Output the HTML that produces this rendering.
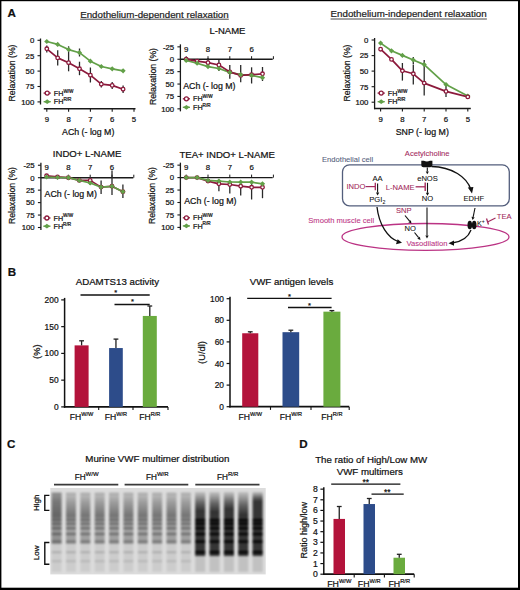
<!DOCTYPE html>
<html><head><meta charset="utf-8"><style>
html,body{margin:0;padding:0;background:#fff;}
#fig{position:absolute;left:0;top:0;width:520px;height:590px;overflow:hidden;}
svg text{font-family:"Liberation Sans", sans-serif;}
</style></head><body>
<div id="fig">
<svg width="520" height="590" viewBox="0 0 520 590" style="display:block">
<defs>
<linearGradient id="smWT" x1="0" y1="0" x2="0" y2="1"><stop offset="0" stop-color="#000" stop-opacity="0.12"/><stop offset="0.4" stop-color="#000" stop-opacity="0.30"/><stop offset="0.9" stop-color="#000" stop-opacity="0.48"/><stop offset="1" stop-color="#000" stop-opacity="0.36"/></linearGradient>
<linearGradient id="smWT1" x1="0" y1="0" x2="0" y2="1"><stop offset="0" stop-color="#000" stop-opacity="0.30"/><stop offset="0.3" stop-color="#000" stop-opacity="0.45"/><stop offset="0.9" stop-color="#000" stop-opacity="0.55"/><stop offset="1" stop-color="#000" stop-opacity="0.45"/></linearGradient>
<linearGradient id="smRR" x1="0" y1="0" x2="0" y2="1"><stop offset="0" stop-color="#000" stop-opacity="0.12"/><stop offset="0.55" stop-color="#000" stop-opacity="0.55"/><stop offset="1" stop-color="#000" stop-opacity="0.80"/></linearGradient>
<filter id="blur1" x="-5%" y="-5%" width="110%" height="110%"><feGaussianBlur stdDeviation="0.8"/></filter>
</defs>
<rect x="0" y="0" width="520" height="590" fill="#fff"/>
<text x="7.60" y="17.00" font-size="11.6" text-anchor="start" fill="#111" stroke="#111" stroke-width="0.22" font-weight="bold" >A</text>
<text x="80.20" y="17.60" font-size="9.75" text-anchor="start" fill="#222" stroke="#222" stroke-width="0.22" font-weight="normal" >Endothelium-dependent relaxation</text>
<line x1="80.20" y1="19.20" x2="228.80" y2="19.20" stroke="#333" stroke-width="0.9"/>
<text x="330.60" y="17.40" font-size="9.75" text-anchor="start" fill="#222" stroke="#222" stroke-width="0.22" font-weight="normal" >Endothelium-independent relaxation</text>
<line x1="330.60" y1="19.00" x2="486.90" y2="19.00" stroke="#333" stroke-width="0.9"/>
<line x1="40.50" y1="38.50" x2="40.50" y2="104.50" stroke="#1a1a1a" stroke-width="1.3"/>
<line x1="37.50" y1="40.30" x2="40.50" y2="40.30" stroke="#1a1a1a" stroke-width="1.1"/>
<text x="34.30" y="43.10" font-size="7.8" text-anchor="end" fill="#111" stroke="#111" stroke-width="0.22" font-weight="normal" >0</text>
<line x1="37.50" y1="55.70" x2="40.50" y2="55.70" stroke="#1a1a1a" stroke-width="1.1"/>
<text x="34.30" y="58.50" font-size="7.8" text-anchor="end" fill="#111" stroke="#111" stroke-width="0.22" font-weight="normal" >25</text>
<line x1="37.50" y1="71.10" x2="40.50" y2="71.10" stroke="#1a1a1a" stroke-width="1.1"/>
<text x="34.30" y="73.90" font-size="7.8" text-anchor="end" fill="#111" stroke="#111" stroke-width="0.22" font-weight="normal" >50</text>
<line x1="37.50" y1="86.50" x2="40.50" y2="86.50" stroke="#1a1a1a" stroke-width="1.1"/>
<text x="34.30" y="89.30" font-size="7.8" text-anchor="end" fill="#111" stroke="#111" stroke-width="0.22" font-weight="normal" >75</text>
<line x1="37.50" y1="101.90" x2="40.50" y2="101.90" stroke="#1a1a1a" stroke-width="1.1"/>
<text x="34.30" y="104.70" font-size="7.8" text-anchor="end" fill="#111" stroke="#111" stroke-width="0.22" font-weight="normal" >100</text>
<line x1="43.80" y1="108.70" x2="135.50" y2="108.70" stroke="#1a1a1a" stroke-width="1.6"/>
<line x1="46.80" y1="108.70" x2="46.80" y2="111.70" stroke="#1a1a1a" stroke-width="1.1"/>
<text x="46.80" y="122.30" font-size="7.8" text-anchor="middle" fill="#111" stroke="#111" stroke-width="0.22" font-weight="normal" >9</text>
<line x1="68.60" y1="108.70" x2="68.60" y2="111.70" stroke="#1a1a1a" stroke-width="1.1"/>
<text x="68.60" y="122.30" font-size="7.8" text-anchor="middle" fill="#111" stroke="#111" stroke-width="0.22" font-weight="normal" >8</text>
<line x1="90.40" y1="108.70" x2="90.40" y2="111.70" stroke="#1a1a1a" stroke-width="1.1"/>
<text x="90.40" y="122.30" font-size="7.8" text-anchor="middle" fill="#111" stroke="#111" stroke-width="0.22" font-weight="normal" >7</text>
<line x1="112.20" y1="108.70" x2="112.20" y2="111.70" stroke="#1a1a1a" stroke-width="1.1"/>
<text x="112.20" y="122.30" font-size="7.8" text-anchor="middle" fill="#111" stroke="#111" stroke-width="0.22" font-weight="normal" >6</text>
<line x1="134.00" y1="108.70" x2="134.00" y2="111.70" stroke="#1a1a1a" stroke-width="1.1"/>
<text x="134.00" y="122.30" font-size="7.8" text-anchor="middle" fill="#111" stroke="#111" stroke-width="0.22" font-weight="normal" >5</text>
<text x="88.20" y="135.20" font-size="8.8" text-anchor="middle" fill="#111" stroke="#111" stroke-width="0.22" font-weight="normal" >ACh (- log M)</text>
<text x="0" y="0" font-size="9.3" text-anchor="middle" fill="#111" stroke="#111" stroke-width="0.22" transform="translate(15.20 73.00) rotate(-90) scale(0.935 1)">Relaxation (%)</text>
<line x1="46.80" y1="45.50" x2="46.80" y2="52.50" stroke="#2a2a2a" stroke-width="1.3"/>
<line x1="57.70" y1="50.20" x2="57.70" y2="65.60" stroke="#2a2a2a" stroke-width="1.3"/>
<line x1="68.60" y1="54.00" x2="68.60" y2="71.30" stroke="#2a2a2a" stroke-width="1.3"/>
<line x1="79.50" y1="61.70" x2="79.50" y2="75.20" stroke="#2a2a2a" stroke-width="1.3"/>
<line x1="90.40" y1="67.50" x2="90.40" y2="82.50" stroke="#2a2a2a" stroke-width="1.3"/>
<line x1="101.30" y1="81.00" x2="101.30" y2="87.50" stroke="#2a2a2a" stroke-width="1.3"/>
<line x1="112.20" y1="82.00" x2="112.20" y2="89.00" stroke="#2a2a2a" stroke-width="1.3"/>
<line x1="123.10" y1="85.50" x2="123.10" y2="93.00" stroke="#2a2a2a" stroke-width="1.3"/>
<line x1="68.60" y1="46.30" x2="68.60" y2="54.00" stroke="#2a2a2a" stroke-width="1.3"/>
<line x1="79.50" y1="48.50" x2="79.50" y2="56.50" stroke="#2a2a2a" stroke-width="1.3"/>
<polyline points="46.80,41.50 57.70,44.40 68.60,49.60 79.50,52.70 90.40,61.20 101.30,66.50 112.20,68.80 123.10,70.80" fill="none" stroke="#62a048" stroke-width="1.7" stroke-linejoin="round"/>
<polyline points="46.80,48.80 57.70,57.90 68.60,62.70 79.50,68.80 90.40,75.20 101.30,84.20 112.20,85.40 123.10,89.20" fill="none" stroke="#8c1a3c" stroke-width="1.7" stroke-linejoin="round"/>
<path d="M44.20 41.50L46.80 38.90L49.40 41.50L46.80 44.10Z" fill="#62a048"/>
<path d="M55.10 44.40L57.70 41.80L60.30 44.40L57.70 47.00Z" fill="#62a048"/>
<path d="M66.00 49.60L68.60 47.00L71.20 49.60L68.60 52.20Z" fill="#62a048"/>
<path d="M76.90 52.70L79.50 50.10L82.10 52.70L79.50 55.30Z" fill="#62a048"/>
<path d="M87.80 61.20L90.40 58.60L93.00 61.20L90.40 63.80Z" fill="#62a048"/>
<path d="M98.70 66.50L101.30 63.90L103.90 66.50L101.30 69.10Z" fill="#62a048"/>
<path d="M109.60 68.80L112.20 66.20L114.80 68.80L112.20 71.40Z" fill="#62a048"/>
<path d="M120.50 70.80L123.10 68.20L125.70 70.80L123.10 73.40Z" fill="#62a048"/>
<circle cx="46.80" cy="48.80" r="1.8" fill="#fff" stroke="#8c1a3c" stroke-width="1.3"/>
<circle cx="57.70" cy="57.90" r="1.8" fill="#fff" stroke="#8c1a3c" stroke-width="1.3"/>
<circle cx="68.60" cy="62.70" r="1.8" fill="#fff" stroke="#8c1a3c" stroke-width="1.3"/>
<circle cx="79.50" cy="68.80" r="1.8" fill="#fff" stroke="#8c1a3c" stroke-width="1.3"/>
<circle cx="90.40" cy="75.20" r="1.8" fill="#fff" stroke="#8c1a3c" stroke-width="1.3"/>
<circle cx="101.30" cy="84.20" r="1.8" fill="#fff" stroke="#8c1a3c" stroke-width="1.3"/>
<circle cx="112.20" cy="85.40" r="1.8" fill="#fff" stroke="#8c1a3c" stroke-width="1.3"/>
<circle cx="123.10" cy="89.20" r="1.8" fill="#fff" stroke="#8c1a3c" stroke-width="1.3"/>
<line x1="43.60" y1="93.10" x2="50.80" y2="93.10" stroke="#8c1a3c" stroke-width="1.3"/>
<circle cx="47.20" cy="93.10" r="2.0" fill="#fff" stroke="#8c1a3c" stroke-width="1.3"/>
<line x1="43.60" y1="101.70" x2="50.80" y2="101.70" stroke="#62a048" stroke-width="1.3"/>
<path d="M44.00 101.70L47.20 99.30L50.40 101.70L47.20 104.10Z" fill="#62a048"/>
<text x="53.80" y="95.70" font-size="7.2" text-anchor="start" fill="#111" stroke="#111" stroke-width="0.22">FH<tspan font-size="4.68" dy="-3.17">W/W</tspan></text>
<text x="53.80" y="104.30" font-size="7.2" text-anchor="start" fill="#111" stroke="#111" stroke-width="0.22">FH<tspan font-size="4.68" dy="-3.17">R/R</tspan></text>
<text x="227.50" y="34.40" font-size="9.5" text-anchor="middle" fill="#111" stroke="#111" stroke-width="0.22" font-weight="normal" >L-NAME</text>
<line x1="180.40" y1="44.35" x2="180.40" y2="111.35" stroke="#1a1a1a" stroke-width="1.3"/>
<line x1="177.40" y1="46.85" x2="180.40" y2="46.85" stroke="#1a1a1a" stroke-width="1.1"/>
<text x="174.20" y="49.65" font-size="7.8" text-anchor="end" fill="#111" stroke="#111" stroke-width="0.22" font-weight="normal" >-25</text>
<line x1="177.40" y1="59.25" x2="180.40" y2="59.25" stroke="#1a1a1a" stroke-width="1.1"/>
<text x="174.20" y="62.05" font-size="7.8" text-anchor="end" fill="#111" stroke="#111" stroke-width="0.22" font-weight="normal" >0</text>
<line x1="177.40" y1="71.65" x2="180.40" y2="71.65" stroke="#1a1a1a" stroke-width="1.1"/>
<text x="174.20" y="74.45" font-size="7.8" text-anchor="end" fill="#111" stroke="#111" stroke-width="0.22" font-weight="normal" >25</text>
<line x1="177.40" y1="84.05" x2="180.40" y2="84.05" stroke="#1a1a1a" stroke-width="1.1"/>
<text x="174.20" y="86.85" font-size="7.8" text-anchor="end" fill="#111" stroke="#111" stroke-width="0.22" font-weight="normal" >50</text>
<line x1="177.40" y1="96.45" x2="180.40" y2="96.45" stroke="#1a1a1a" stroke-width="1.1"/>
<text x="174.20" y="99.25" font-size="7.8" text-anchor="end" fill="#111" stroke="#111" stroke-width="0.22" font-weight="normal" >75</text>
<line x1="177.40" y1="108.85" x2="180.40" y2="108.85" stroke="#1a1a1a" stroke-width="1.1"/>
<text x="174.20" y="111.65" font-size="7.8" text-anchor="end" fill="#111" stroke="#111" stroke-width="0.22" font-weight="normal" >100</text>
<line x1="180.40" y1="59.20" x2="272.70" y2="59.20" stroke="#1a1a1a" stroke-width="1.4"/>
<line x1="186.20" y1="56.20" x2="186.20" y2="59.20" stroke="#1a1a1a" stroke-width="1.0"/>
<text x="186.20" y="51.90" font-size="7.8" text-anchor="middle" fill="#111" stroke="#111" stroke-width="0.22" font-weight="normal" >9</text>
<line x1="208.00" y1="56.20" x2="208.00" y2="59.20" stroke="#1a1a1a" stroke-width="1.0"/>
<text x="208.00" y="51.90" font-size="7.8" text-anchor="middle" fill="#111" stroke="#111" stroke-width="0.22" font-weight="normal" >8</text>
<line x1="229.80" y1="56.20" x2="229.80" y2="59.20" stroke="#1a1a1a" stroke-width="1.0"/>
<text x="229.80" y="51.90" font-size="7.8" text-anchor="middle" fill="#111" stroke="#111" stroke-width="0.22" font-weight="normal" >7</text>
<line x1="251.60" y1="56.20" x2="251.60" y2="59.20" stroke="#1a1a1a" stroke-width="1.0"/>
<text x="251.60" y="51.90" font-size="7.8" text-anchor="middle" fill="#111" stroke="#111" stroke-width="0.22" font-weight="normal" >6</text>
<line x1="273.40" y1="56.20" x2="273.40" y2="59.20" stroke="#1a1a1a" stroke-width="1.0"/>
<text x="209.40" y="89.30" font-size="8.8" text-anchor="middle" fill="#111" stroke="#111" stroke-width="0.22" font-weight="normal" >ACh (- log M)</text>
<text x="0" y="0" font-size="9.3" text-anchor="middle" fill="#111" stroke="#111" stroke-width="0.22" transform="translate(155.50 76.50) rotate(-90) scale(0.935 1)">Relaxation (%)</text>
<line x1="182.80" y1="98.80" x2="190.00" y2="98.80" stroke="#8c1a3c" stroke-width="1.3"/>
<circle cx="186.40" cy="98.80" r="2.0" fill="#fff" stroke="#8c1a3c" stroke-width="1.3"/>
<line x1="182.80" y1="107.30" x2="190.00" y2="107.30" stroke="#62a048" stroke-width="1.3"/>
<path d="M183.20 107.30L186.40 104.90L189.60 107.30L186.40 109.70Z" fill="#62a048"/>
<text x="193.00" y="101.40" font-size="7.2" text-anchor="start" fill="#111" stroke="#111" stroke-width="0.22">FH<tspan font-size="4.68" dy="-3.17">W/W</tspan></text>
<text x="193.00" y="109.90" font-size="7.2" text-anchor="start" fill="#111" stroke="#111" stroke-width="0.22">FH<tspan font-size="4.68" dy="-3.17">R/R</tspan></text>
<line x1="208.00" y1="58.00" x2="208.00" y2="66.00" stroke="#2a2a2a" stroke-width="1.3"/>
<line x1="218.90" y1="60.00" x2="218.90" y2="71.00" stroke="#2a2a2a" stroke-width="1.3"/>
<line x1="229.80" y1="65.00" x2="229.80" y2="78.80" stroke="#2a2a2a" stroke-width="1.3"/>
<line x1="240.70" y1="65.00" x2="240.70" y2="82.30" stroke="#2a2a2a" stroke-width="1.3"/>
<line x1="251.60" y1="67.30" x2="251.60" y2="83.50" stroke="#2a2a2a" stroke-width="1.3"/>
<line x1="262.50" y1="67.00" x2="262.50" y2="81.00" stroke="#2a2a2a" stroke-width="1.3"/>
<polyline points="186.20,60.40 197.10,63.20 208.00,66.60 218.90,68.50 229.80,72.40 240.70,74.70 251.60,75.40 262.50,77.70" fill="none" stroke="#62a048" stroke-width="1.7" stroke-linejoin="round"/>
<polyline points="186.20,59.20 197.10,61.10 208.00,62.70 218.90,65.00 229.80,71.90 240.70,75.40 251.60,74.70 262.50,73.80" fill="none" stroke="#8c1a3c" stroke-width="1.7" stroke-linejoin="round"/>
<circle cx="186.20" cy="59.20" r="1.8" fill="#fff" stroke="#8c1a3c" stroke-width="1.3"/>
<circle cx="197.10" cy="61.10" r="1.8" fill="#fff" stroke="#8c1a3c" stroke-width="1.3"/>
<circle cx="208.00" cy="62.70" r="1.8" fill="#fff" stroke="#8c1a3c" stroke-width="1.3"/>
<circle cx="218.90" cy="65.00" r="1.8" fill="#fff" stroke="#8c1a3c" stroke-width="1.3"/>
<circle cx="229.80" cy="71.90" r="1.8" fill="#fff" stroke="#8c1a3c" stroke-width="1.3"/>
<circle cx="240.70" cy="75.40" r="1.8" fill="#fff" stroke="#8c1a3c" stroke-width="1.3"/>
<circle cx="251.60" cy="74.70" r="1.8" fill="#fff" stroke="#8c1a3c" stroke-width="1.3"/>
<circle cx="262.50" cy="73.80" r="1.8" fill="#fff" stroke="#8c1a3c" stroke-width="1.3"/>
<path d="M183.60 60.40L186.20 57.80L188.80 60.40L186.20 63.00Z" fill="#62a048"/>
<path d="M194.50 63.20L197.10 60.60L199.70 63.20L197.10 65.80Z" fill="#62a048"/>
<path d="M205.40 66.60L208.00 64.00L210.60 66.60L208.00 69.20Z" fill="#62a048"/>
<path d="M216.30 68.50L218.90 65.90L221.50 68.50L218.90 71.10Z" fill="#62a048"/>
<path d="M227.20 72.40L229.80 69.80L232.40 72.40L229.80 75.00Z" fill="#62a048"/>
<path d="M238.10 74.70L240.70 72.10L243.30 74.70L240.70 77.30Z" fill="#62a048"/>
<path d="M249.00 75.40L251.60 72.80L254.20 75.40L251.60 78.00Z" fill="#62a048"/>
<path d="M259.90 77.70L262.50 75.10L265.10 77.70L262.50 80.30Z" fill="#62a048"/>
<line x1="374.60" y1="38.00" x2="374.60" y2="109.20" stroke="#1a1a1a" stroke-width="1.3"/>
<line x1="371.60" y1="40.00" x2="374.60" y2="40.00" stroke="#1a1a1a" stroke-width="1.1"/>
<text x="368.40" y="42.80" font-size="7.8" text-anchor="end" fill="#111" stroke="#111" stroke-width="0.22" font-weight="normal" >0</text>
<line x1="371.60" y1="55.60" x2="374.60" y2="55.60" stroke="#1a1a1a" stroke-width="1.1"/>
<text x="368.40" y="58.40" font-size="7.8" text-anchor="end" fill="#111" stroke="#111" stroke-width="0.22" font-weight="normal" >25</text>
<line x1="371.60" y1="71.10" x2="374.60" y2="71.10" stroke="#1a1a1a" stroke-width="1.1"/>
<text x="368.40" y="73.90" font-size="7.8" text-anchor="end" fill="#111" stroke="#111" stroke-width="0.22" font-weight="normal" >50</text>
<line x1="371.60" y1="86.70" x2="374.60" y2="86.70" stroke="#1a1a1a" stroke-width="1.1"/>
<text x="368.40" y="89.50" font-size="7.8" text-anchor="end" fill="#111" stroke="#111" stroke-width="0.22" font-weight="normal" >75</text>
<line x1="371.60" y1="102.20" x2="374.60" y2="102.20" stroke="#1a1a1a" stroke-width="1.1"/>
<text x="368.40" y="105.00" font-size="7.8" text-anchor="end" fill="#111" stroke="#111" stroke-width="0.22" font-weight="normal" >100</text>
<line x1="374.00" y1="108.50" x2="470.80" y2="108.50" stroke="#1a1a1a" stroke-width="1.6"/>
<line x1="380.60" y1="108.50" x2="380.60" y2="111.50" stroke="#1a1a1a" stroke-width="1.1"/>
<text x="380.60" y="122.10" font-size="7.8" text-anchor="middle" fill="#111" stroke="#111" stroke-width="0.22" font-weight="normal" >9</text>
<line x1="402.40" y1="108.50" x2="402.40" y2="111.50" stroke="#1a1a1a" stroke-width="1.1"/>
<text x="402.40" y="122.10" font-size="7.8" text-anchor="middle" fill="#111" stroke="#111" stroke-width="0.22" font-weight="normal" >8</text>
<line x1="424.20" y1="108.50" x2="424.20" y2="111.50" stroke="#1a1a1a" stroke-width="1.1"/>
<text x="424.20" y="122.10" font-size="7.8" text-anchor="middle" fill="#111" stroke="#111" stroke-width="0.22" font-weight="normal" >7</text>
<line x1="446.00" y1="108.50" x2="446.00" y2="111.50" stroke="#1a1a1a" stroke-width="1.1"/>
<text x="446.00" y="122.10" font-size="7.8" text-anchor="middle" fill="#111" stroke="#111" stroke-width="0.22" font-weight="normal" >6</text>
<line x1="467.80" y1="108.50" x2="467.80" y2="111.50" stroke="#1a1a1a" stroke-width="1.1"/>
<text x="467.80" y="122.10" font-size="7.8" text-anchor="middle" fill="#111" stroke="#111" stroke-width="0.22" font-weight="normal" >5</text>
<text x="422.30" y="135.30" font-size="8.8" text-anchor="middle" fill="#111" stroke="#111" stroke-width="0.22" font-weight="normal" >SNP (- log M)</text>
<text x="0" y="0" font-size="9.3" text-anchor="middle" fill="#111" stroke="#111" stroke-width="0.22" transform="translate(349.60 73.00) rotate(-90) scale(0.935 1)">Relaxation (%)</text>
<line x1="402.40" y1="63.00" x2="402.40" y2="80.60" stroke="#2a2a2a" stroke-width="1.3"/>
<line x1="413.30" y1="64.60" x2="413.30" y2="84.60" stroke="#2a2a2a" stroke-width="1.3"/>
<line x1="424.20" y1="69.00" x2="424.20" y2="95.40" stroke="#2a2a2a" stroke-width="1.3"/>
<line x1="446.00" y1="86.00" x2="446.00" y2="97.00" stroke="#2a2a2a" stroke-width="1.3"/>
<line x1="413.30" y1="57.00" x2="413.30" y2="64.00" stroke="#2a2a2a" stroke-width="1.3"/>
<line x1="424.20" y1="60.00" x2="424.20" y2="69.00" stroke="#2a2a2a" stroke-width="1.3"/>
<polyline points="380.60,43.10 391.50,50.80 402.40,55.40 413.30,60.00 424.20,64.60 446.00,84.60 467.80,96.00" fill="none" stroke="#62a048" stroke-width="1.7" stroke-linejoin="round"/>
<polyline points="380.60,49.20 391.50,59.40 402.40,70.80 413.30,73.80 424.20,83.10 446.00,91.40 467.80,96.90" fill="none" stroke="#8c1a3c" stroke-width="1.7" stroke-linejoin="round"/>
<path d="M378.00 43.10L380.60 40.50L383.20 43.10L380.60 45.70Z" fill="#62a048"/>
<path d="M388.90 50.80L391.50 48.20L394.10 50.80L391.50 53.40Z" fill="#62a048"/>
<path d="M399.80 55.40L402.40 52.80L405.00 55.40L402.40 58.00Z" fill="#62a048"/>
<path d="M410.70 60.00L413.30 57.40L415.90 60.00L413.30 62.60Z" fill="#62a048"/>
<path d="M421.60 64.60L424.20 62.00L426.80 64.60L424.20 67.20Z" fill="#62a048"/>
<path d="M443.40 84.60L446.00 82.00L448.60 84.60L446.00 87.20Z" fill="#62a048"/>
<path d="M465.20 96.00L467.80 93.40L470.40 96.00L467.80 98.60Z" fill="#62a048"/>
<circle cx="380.60" cy="49.20" r="1.8" fill="#fff" stroke="#8c1a3c" stroke-width="1.3"/>
<circle cx="391.50" cy="59.40" r="1.8" fill="#fff" stroke="#8c1a3c" stroke-width="1.3"/>
<circle cx="402.40" cy="70.80" r="1.8" fill="#fff" stroke="#8c1a3c" stroke-width="1.3"/>
<circle cx="413.30" cy="73.80" r="1.8" fill="#fff" stroke="#8c1a3c" stroke-width="1.3"/>
<circle cx="424.20" cy="83.10" r="1.8" fill="#fff" stroke="#8c1a3c" stroke-width="1.3"/>
<circle cx="446.00" cy="91.40" r="1.8" fill="#fff" stroke="#8c1a3c" stroke-width="1.3"/>
<circle cx="467.80" cy="96.90" r="1.8" fill="#fff" stroke="#8c1a3c" stroke-width="1.3"/>
<line x1="377.60" y1="93.10" x2="384.80" y2="93.10" stroke="#8c1a3c" stroke-width="1.3"/>
<circle cx="381.20" cy="93.10" r="2.0" fill="#fff" stroke="#8c1a3c" stroke-width="1.3"/>
<line x1="377.60" y1="101.70" x2="384.80" y2="101.70" stroke="#62a048" stroke-width="1.3"/>
<path d="M378.00 101.70L381.20 99.30L384.40 101.70L381.20 104.10Z" fill="#62a048"/>
<text x="387.80" y="95.70" font-size="7.2" text-anchor="start" fill="#111" stroke="#111" stroke-width="0.22">FH<tspan font-size="4.68" dy="-3.17">W/W</tspan></text>
<text x="387.80" y="104.30" font-size="7.2" text-anchor="start" fill="#111" stroke="#111" stroke-width="0.22">FH<tspan font-size="4.68" dy="-3.17">R/R</tspan></text>
<text x="87.10" y="157.00" font-size="9.6" text-anchor="middle" fill="#111" stroke="#111" stroke-width="0.22" font-weight="normal" >INDO+ L-NAME</text>
<line x1="40.90" y1="162.75" x2="40.90" y2="230.00" stroke="#1a1a1a" stroke-width="1.3"/>
<line x1="37.90" y1="165.25" x2="40.90" y2="165.25" stroke="#1a1a1a" stroke-width="1.1"/>
<text x="34.70" y="168.05" font-size="7.8" text-anchor="end" fill="#111" stroke="#111" stroke-width="0.22" font-weight="normal" >-25</text>
<line x1="37.90" y1="177.70" x2="40.90" y2="177.70" stroke="#1a1a1a" stroke-width="1.1"/>
<text x="34.70" y="180.50" font-size="7.8" text-anchor="end" fill="#111" stroke="#111" stroke-width="0.22" font-weight="normal" >0</text>
<line x1="37.90" y1="190.15" x2="40.90" y2="190.15" stroke="#1a1a1a" stroke-width="1.1"/>
<text x="34.70" y="192.95" font-size="7.8" text-anchor="end" fill="#111" stroke="#111" stroke-width="0.22" font-weight="normal" >25</text>
<line x1="37.90" y1="202.60" x2="40.90" y2="202.60" stroke="#1a1a1a" stroke-width="1.1"/>
<text x="34.70" y="205.40" font-size="7.8" text-anchor="end" fill="#111" stroke="#111" stroke-width="0.22" font-weight="normal" >50</text>
<line x1="37.90" y1="215.05" x2="40.90" y2="215.05" stroke="#1a1a1a" stroke-width="1.1"/>
<text x="34.70" y="217.85" font-size="7.8" text-anchor="end" fill="#111" stroke="#111" stroke-width="0.22" font-weight="normal" >75</text>
<line x1="37.90" y1="227.50" x2="40.90" y2="227.50" stroke="#1a1a1a" stroke-width="1.1"/>
<text x="34.70" y="230.30" font-size="7.8" text-anchor="end" fill="#111" stroke="#111" stroke-width="0.22" font-weight="normal" >100</text>
<line x1="40.90" y1="177.70" x2="133.30" y2="177.70" stroke="#1a1a1a" stroke-width="1.4"/>
<line x1="46.60" y1="174.70" x2="46.60" y2="177.70" stroke="#1a1a1a" stroke-width="1.0"/>
<text x="46.60" y="170.40" font-size="7.8" text-anchor="middle" fill="#111" stroke="#111" stroke-width="0.22" font-weight="normal" >9</text>
<line x1="68.40" y1="174.70" x2="68.40" y2="177.70" stroke="#1a1a1a" stroke-width="1.0"/>
<text x="68.40" y="170.40" font-size="7.8" text-anchor="middle" fill="#111" stroke="#111" stroke-width="0.22" font-weight="normal" >8</text>
<line x1="90.20" y1="174.70" x2="90.20" y2="177.70" stroke="#1a1a1a" stroke-width="1.0"/>
<text x="90.20" y="170.40" font-size="7.8" text-anchor="middle" fill="#111" stroke="#111" stroke-width="0.22" font-weight="normal" >7</text>
<line x1="112.00" y1="174.70" x2="112.00" y2="177.70" stroke="#1a1a1a" stroke-width="1.0"/>
<text x="112.00" y="170.40" font-size="7.8" text-anchor="middle" fill="#111" stroke="#111" stroke-width="0.22" font-weight="normal" >6</text>
<line x1="133.80" y1="174.70" x2="133.80" y2="177.70" stroke="#1a1a1a" stroke-width="1.0"/>
<text x="70.70" y="196.80" font-size="8.8" text-anchor="middle" fill="#111" stroke="#111" stroke-width="0.22" font-weight="normal" >ACh (- log M)</text>
<text x="0" y="0" font-size="9.3" text-anchor="middle" fill="#111" stroke="#111" stroke-width="0.22" transform="translate(15.00 195.50) rotate(-90) scale(0.935 1)">Relaxation (%)</text>
<line x1="43.30" y1="218.00" x2="50.50" y2="218.00" stroke="#8c1a3c" stroke-width="1.3"/>
<circle cx="46.90" cy="218.00" r="2.0" fill="#fff" stroke="#8c1a3c" stroke-width="1.3"/>
<line x1="43.30" y1="226.20" x2="50.50" y2="226.20" stroke="#62a048" stroke-width="1.3"/>
<path d="M43.70 226.20L46.90 223.80L50.10 226.20L46.90 228.60Z" fill="#62a048"/>
<text x="53.50" y="220.60" font-size="7.2" text-anchor="start" fill="#111" stroke="#111" stroke-width="0.22">FH<tspan font-size="4.68" dy="-3.17">W/W</tspan></text>
<text x="53.50" y="228.80" font-size="7.2" text-anchor="start" fill="#111" stroke="#111" stroke-width="0.22">FH<tspan font-size="4.68" dy="-3.17">R/R</tspan></text>
<line x1="90.20" y1="177.00" x2="90.20" y2="185.00" stroke="#2a2a2a" stroke-width="1.3"/>
<line x1="101.10" y1="180.60" x2="101.10" y2="194.00" stroke="#2a2a2a" stroke-width="1.3"/>
<line x1="112.00" y1="170.50" x2="112.00" y2="195.00" stroke="#2a2a2a" stroke-width="1.3"/>
<line x1="122.90" y1="184.40" x2="122.90" y2="198.00" stroke="#2a2a2a" stroke-width="1.3"/>
<polyline points="46.60,175.80 57.50,176.90 68.40,177.70 79.30,180.40 90.20,180.40 101.10,187.10 112.00,186.30 122.90,191.70" fill="none" stroke="#8c1a3c" stroke-width="1.7" stroke-linejoin="round"/>
<polyline points="46.60,177.00 57.50,177.50 68.40,177.70 79.30,180.40 90.20,183.00 101.10,187.10 112.00,186.30 122.90,191.70" fill="none" stroke="#62a048" stroke-width="1.7" stroke-linejoin="round"/>
<circle cx="46.60" cy="175.80" r="1.8" fill="#fff" stroke="#8c1a3c" stroke-width="1.3"/>
<circle cx="57.50" cy="176.90" r="1.8" fill="#fff" stroke="#8c1a3c" stroke-width="1.3"/>
<circle cx="68.40" cy="177.70" r="1.8" fill="#fff" stroke="#8c1a3c" stroke-width="1.3"/>
<circle cx="79.30" cy="180.40" r="1.8" fill="#fff" stroke="#8c1a3c" stroke-width="1.3"/>
<circle cx="90.20" cy="180.40" r="1.8" fill="#fff" stroke="#8c1a3c" stroke-width="1.3"/>
<circle cx="101.10" cy="187.10" r="1.8" fill="#fff" stroke="#8c1a3c" stroke-width="1.3"/>
<circle cx="112.00" cy="186.30" r="1.8" fill="#fff" stroke="#8c1a3c" stroke-width="1.3"/>
<circle cx="122.90" cy="191.70" r="1.8" fill="#fff" stroke="#8c1a3c" stroke-width="1.3"/>
<path d="M44.00 177.00L46.60 174.40L49.20 177.00L46.60 179.60Z" fill="#62a048"/>
<path d="M54.90 177.50L57.50 174.90L60.10 177.50L57.50 180.10Z" fill="#62a048"/>
<path d="M65.80 177.70L68.40 175.10L71.00 177.70L68.40 180.30Z" fill="#62a048"/>
<path d="M76.70 180.40L79.30 177.80L81.90 180.40L79.30 183.00Z" fill="#62a048"/>
<path d="M87.60 183.00L90.20 180.40L92.80 183.00L90.20 185.60Z" fill="#62a048"/>
<path d="M98.50 187.10L101.10 184.50L103.70 187.10L101.10 189.70Z" fill="#62a048"/>
<path d="M109.40 186.30L112.00 183.70L114.60 186.30L112.00 188.90Z" fill="#62a048"/>
<path d="M120.30 191.70L122.90 189.10L125.50 191.70L122.90 194.30Z" fill="#62a048"/>
<text x="227.10" y="157.80" font-size="9.6" text-anchor="middle" fill="#111" stroke="#111" stroke-width="0.22" font-weight="normal" >TEA+ INDO+ L-NAME</text>
<line x1="180.40" y1="162.65" x2="180.40" y2="229.90" stroke="#1a1a1a" stroke-width="1.3"/>
<line x1="177.40" y1="165.15" x2="180.40" y2="165.15" stroke="#1a1a1a" stroke-width="1.1"/>
<text x="174.20" y="167.95" font-size="7.8" text-anchor="end" fill="#111" stroke="#111" stroke-width="0.22" font-weight="normal" >-25</text>
<line x1="177.40" y1="177.60" x2="180.40" y2="177.60" stroke="#1a1a1a" stroke-width="1.1"/>
<text x="174.20" y="180.40" font-size="7.8" text-anchor="end" fill="#111" stroke="#111" stroke-width="0.22" font-weight="normal" >0</text>
<line x1="177.40" y1="190.05" x2="180.40" y2="190.05" stroke="#1a1a1a" stroke-width="1.1"/>
<text x="174.20" y="192.85" font-size="7.8" text-anchor="end" fill="#111" stroke="#111" stroke-width="0.22" font-weight="normal" >25</text>
<line x1="177.40" y1="202.50" x2="180.40" y2="202.50" stroke="#1a1a1a" stroke-width="1.1"/>
<text x="174.20" y="205.30" font-size="7.8" text-anchor="end" fill="#111" stroke="#111" stroke-width="0.22" font-weight="normal" >50</text>
<line x1="177.40" y1="214.95" x2="180.40" y2="214.95" stroke="#1a1a1a" stroke-width="1.1"/>
<text x="174.20" y="217.75" font-size="7.8" text-anchor="end" fill="#111" stroke="#111" stroke-width="0.22" font-weight="normal" >75</text>
<line x1="177.40" y1="227.40" x2="180.40" y2="227.40" stroke="#1a1a1a" stroke-width="1.1"/>
<text x="174.20" y="230.20" font-size="7.8" text-anchor="end" fill="#111" stroke="#111" stroke-width="0.22" font-weight="normal" >100</text>
<line x1="180.40" y1="177.60" x2="272.70" y2="177.60" stroke="#1a1a1a" stroke-width="1.4"/>
<line x1="186.20" y1="174.60" x2="186.20" y2="177.60" stroke="#1a1a1a" stroke-width="1.0"/>
<text x="186.20" y="170.30" font-size="7.8" text-anchor="middle" fill="#111" stroke="#111" stroke-width="0.22" font-weight="normal" >9</text>
<line x1="208.00" y1="174.60" x2="208.00" y2="177.60" stroke="#1a1a1a" stroke-width="1.0"/>
<text x="208.00" y="170.30" font-size="7.8" text-anchor="middle" fill="#111" stroke="#111" stroke-width="0.22" font-weight="normal" >8</text>
<line x1="229.80" y1="174.60" x2="229.80" y2="177.60" stroke="#1a1a1a" stroke-width="1.0"/>
<text x="229.80" y="170.30" font-size="7.8" text-anchor="middle" fill="#111" stroke="#111" stroke-width="0.22" font-weight="normal" >7</text>
<line x1="251.60" y1="174.60" x2="251.60" y2="177.60" stroke="#1a1a1a" stroke-width="1.0"/>
<text x="251.60" y="170.30" font-size="7.8" text-anchor="middle" fill="#111" stroke="#111" stroke-width="0.22" font-weight="normal" >6</text>
<line x1="273.40" y1="174.60" x2="273.40" y2="177.60" stroke="#1a1a1a" stroke-width="1.0"/>
<text x="210.40" y="203.50" font-size="8.8" text-anchor="middle" fill="#111" stroke="#111" stroke-width="0.22" font-weight="normal" >ACh (- log M)</text>
<text x="0" y="0" font-size="9.3" text-anchor="middle" fill="#111" stroke="#111" stroke-width="0.22" transform="translate(155.00 195.50) rotate(-90) scale(0.935 1)">Relaxation (%)</text>
<line x1="182.80" y1="217.80" x2="190.00" y2="217.80" stroke="#8c1a3c" stroke-width="1.3"/>
<circle cx="186.40" cy="217.80" r="2.0" fill="#fff" stroke="#8c1a3c" stroke-width="1.3"/>
<line x1="182.80" y1="225.90" x2="190.00" y2="225.90" stroke="#62a048" stroke-width="1.3"/>
<path d="M183.20 225.90L186.40 223.50L189.60 225.90L186.40 228.30Z" fill="#62a048"/>
<text x="193.00" y="220.40" font-size="7.2" text-anchor="start" fill="#111" stroke="#111" stroke-width="0.22">FH<tspan font-size="4.68" dy="-3.17">W/W</tspan></text>
<text x="193.00" y="228.50" font-size="7.2" text-anchor="start" fill="#111" stroke="#111" stroke-width="0.22">FH<tspan font-size="4.68" dy="-3.17">R/R</tspan></text>
<line x1="218.90" y1="181.50" x2="218.90" y2="191.20" stroke="#2a2a2a" stroke-width="1.3"/>
<line x1="229.80" y1="182.70" x2="229.80" y2="193.50" stroke="#2a2a2a" stroke-width="1.3"/>
<line x1="240.70" y1="182.70" x2="240.70" y2="195.40" stroke="#2a2a2a" stroke-width="1.3"/>
<line x1="251.60" y1="182.70" x2="251.60" y2="199.50" stroke="#2a2a2a" stroke-width="1.3"/>
<line x1="262.50" y1="182.70" x2="262.50" y2="198.20" stroke="#2a2a2a" stroke-width="1.3"/>
<polyline points="186.20,177.60 197.10,177.60 208.00,181.10 218.90,183.80 229.80,184.50 240.70,186.20 251.60,187.30 262.50,187.30" fill="none" stroke="#8c1a3c" stroke-width="1.7" stroke-linejoin="round"/>
<polyline points="186.20,177.60 197.10,177.60 208.00,180.40 218.90,181.10 229.80,182.00 240.70,182.20 251.60,182.20 262.50,183.80" fill="none" stroke="#62a048" stroke-width="1.7" stroke-linejoin="round"/>
<circle cx="186.20" cy="177.60" r="1.8" fill="#fff" stroke="#8c1a3c" stroke-width="1.3"/>
<circle cx="197.10" cy="177.60" r="1.8" fill="#fff" stroke="#8c1a3c" stroke-width="1.3"/>
<circle cx="208.00" cy="181.10" r="1.8" fill="#fff" stroke="#8c1a3c" stroke-width="1.3"/>
<circle cx="218.90" cy="183.80" r="1.8" fill="#fff" stroke="#8c1a3c" stroke-width="1.3"/>
<circle cx="229.80" cy="184.50" r="1.8" fill="#fff" stroke="#8c1a3c" stroke-width="1.3"/>
<circle cx="240.70" cy="186.20" r="1.8" fill="#fff" stroke="#8c1a3c" stroke-width="1.3"/>
<circle cx="251.60" cy="187.30" r="1.8" fill="#fff" stroke="#8c1a3c" stroke-width="1.3"/>
<circle cx="262.50" cy="187.30" r="1.8" fill="#fff" stroke="#8c1a3c" stroke-width="1.3"/>
<path d="M183.60 177.60L186.20 175.00L188.80 177.60L186.20 180.20Z" fill="#62a048"/>
<path d="M194.50 177.60L197.10 175.00L199.70 177.60L197.10 180.20Z" fill="#62a048"/>
<path d="M205.40 180.40L208.00 177.80L210.60 180.40L208.00 183.00Z" fill="#62a048"/>
<path d="M216.30 181.10L218.90 178.50L221.50 181.10L218.90 183.70Z" fill="#62a048"/>
<path d="M227.20 182.00L229.80 179.40L232.40 182.00L229.80 184.60Z" fill="#62a048"/>
<path d="M238.10 182.20L240.70 179.60L243.30 182.20L240.70 184.80Z" fill="#62a048"/>
<path d="M249.00 182.20L251.60 179.60L254.20 182.20L251.60 184.80Z" fill="#62a048"/>
<path d="M259.90 183.80L262.50 181.20L265.10 183.80L262.50 186.40Z" fill="#62a048"/>
<text x="347.60" y="162.30" font-size="7.6" text-anchor="middle" fill="#535e7c" stroke="#535e7c" stroke-width="0.08" font-weight="normal" >Endothelial cell</text>
<rect x="342.5" y="164.8" width="166.8" height="41" rx="7" ry="7" fill="none" stroke="#535e7c" stroke-width="1.3"/>
<text x="427.20" y="155.60" font-size="7.6" text-anchor="middle" fill="#a32a5c" stroke="#a32a5c" stroke-width="0.08" font-weight="normal" >Acetylcholine</text>
<path d="M421.3 160.8 L423.8 160.8 Q426.9 162.3 430 160.8 L432.4 160.8 L432.4 165.2 Q432.2 167.2 430.2 167.2 L423.5 167.2 Q421.3 167.2 421.3 165.2 Z" fill="#111"/>
<text x="377.60" y="181.40" font-size="7.6" text-anchor="middle" fill="#111" stroke="#111" stroke-width="0.08" font-weight="normal" >AA</text>
<text x="427.50" y="181.20" font-size="7.6" text-anchor="middle" fill="#111" stroke="#111" stroke-width="0.08" font-weight="normal" >eNOS</text>
<text x="356.00" y="189.30" font-size="7.6" text-anchor="middle" fill="#a32a5c" stroke="#a32a5c" stroke-width="0.08" font-weight="normal" >INDO</text>
<text x="400.20" y="189.80" font-size="7.6" text-anchor="middle" fill="#a32a5c" stroke="#a32a5c" stroke-width="0.08" font-weight="normal" >L-NAME</text>
<line x1="365.50" y1="186.60" x2="375.00" y2="186.60" stroke="#a32a5c" stroke-width="1.2"/>
<line x1="375.30" y1="182.80" x2="375.30" y2="190.30" stroke="#a32a5c" stroke-width="1.3"/>
<line x1="415.60" y1="186.80" x2="425.00" y2="186.80" stroke="#a32a5c" stroke-width="1.3"/>
<line x1="425.20" y1="182.60" x2="425.20" y2="191.00" stroke="#a32a5c" stroke-width="1.4"/>
<line x1="377.60" y1="183.50" x2="377.60" y2="192.50" stroke="#111" stroke-width="1.1"/>
<path d="M377.60 195.50L375.95 192.50L379.25 192.50Z" fill="#111"/>
<line x1="427.30" y1="167.50" x2="427.30" y2="171.50" stroke="#111" stroke-width="1.1"/>
<path d="M427.30 174.30L425.76 171.50L428.84 171.50Z" fill="#111"/>
<line x1="427.50" y1="182.80" x2="427.50" y2="192.80" stroke="#111" stroke-width="1.1"/>
<path d="M427.50 195.80L425.85 192.80L429.15 192.80Z" fill="#111"/>
<text x="377.30" y="202.20" font-size="7.6" text-anchor="middle" fill="#111" stroke="#111" stroke-width="0.08" font-weight="normal" >PGI<tspan font-size="5.2" dy="2.2">2</tspan></text>
<text x="427.50" y="201.40" font-size="7.6" text-anchor="middle" fill="#111" stroke="#111" stroke-width="0.08" font-weight="normal" >NO</text>
<text x="473.80" y="201.40" font-size="7.6" text-anchor="middle" fill="#111" stroke="#111" stroke-width="0.08" font-weight="normal" >EDHF</text>
<path d="M431.5 166.5 C452 167 467 177 470.8 189.5" fill="none" stroke="#111" stroke-width="1.4"/>
<path d="M472 193.5 L467.8 187.6 L473.4 186.9 Z" fill="#111"/>
<text x="341.20" y="222.60" font-size="7.6" text-anchor="middle" fill="#bb3384" stroke="#bb3384" stroke-width="0.08" font-weight="normal" >Smooth muscle cell</text>
<text x="403.80" y="213.40" font-size="7.6" text-anchor="middle" fill="#a32a5c" stroke="#a32a5c" stroke-width="0.08" font-weight="normal" >SNP</text>
<text x="410.30" y="230.60" font-size="7.6" text-anchor="middle" fill="#111" stroke="#111" stroke-width="0.08" font-weight="normal" >NO</text>
<ellipse cx="425.5" cy="236.9" rx="83.5" ry="13.4" fill="none" stroke="#bb3384" stroke-width="1.3"/>
<text x="427.00" y="246.20" font-size="7.6" text-anchor="middle" fill="#bb3384" stroke="#bb3384" stroke-width="0.08" font-weight="normal" >Vasodilation</text>
<line x1="405.00" y1="215.50" x2="409.61" y2="221.17" stroke="#111" stroke-width="1.1"/>
<path d="M411.50 223.50L408.33 222.21L410.89 220.13Z" fill="#111"/>
<line x1="414.50" y1="232.50" x2="418.63" y2="237.66" stroke="#111" stroke-width="1.1"/>
<path d="M420.50 240.00L417.34 238.69L419.91 236.63Z" fill="#111"/>
<line x1="427.00" y1="207.50" x2="427.00" y2="235.50" stroke="#111" stroke-width="1.1"/>
<path d="M427.00 238.50L425.35 235.50L428.65 235.50Z" fill="#111"/>
<path d="M377 207 C379 225 388 238 398 241.5" fill="none" stroke="#111" stroke-width="1.3"/>
<path d="M402 242.8 L396 244.2 L397.6 239.2 Z" fill="#111"/>
<line x1="475.00" y1="208.00" x2="473.11" y2="217.06" stroke="#111" stroke-width="1.1"/>
<path d="M472.50 220.00L471.50 216.73L474.73 217.40Z" fill="#111"/>
<ellipse cx="469.8" cy="225" rx="2.3" ry="4.3" fill="#111"/><ellipse cx="474.2" cy="225" rx="2.3" ry="4.3" fill="#111"/>
<text x="477.00" y="225.60" font-size="7.199999999999999" text-anchor="start" fill="#111" stroke="#111" stroke-width="0.08" font-weight="normal" >K<tspan font-size="5" dy="-2.6">+</tspan></text>
<line x1="487.50" y1="222.00" x2="495.50" y2="218.00" stroke="#a32a5c" stroke-width="1.2"/>
<line x1="486.50" y1="218.50" x2="488.50" y2="224.50" stroke="#a32a5c" stroke-width="1.3"/>
<text x="504.20" y="219.40" font-size="7.6" text-anchor="middle" fill="#a32a5c" stroke="#a32a5c" stroke-width="0.08" font-weight="normal" >TEA</text>
<path d="M471 230 C468 238 460 242 452 243" fill="none" stroke="#111" stroke-width="1.3"/>
<path d="M448.5 243.3 L454 240.6 L454 245.8 Z" fill="#111"/>
<text x="7.80" y="276.40" font-size="11.6" text-anchor="start" fill="#111" stroke="#111" stroke-width="0.22" font-weight="bold" >B</text>
<text x="117.40" y="285.00" font-size="9.7" text-anchor="middle" fill="#111" stroke="#111" stroke-width="0.22" font-weight="normal" >ADAMTS13 activity</text>
<line x1="64.60" y1="297.90" x2="64.60" y2="407.70" stroke="#111" stroke-width="1.5"/>
<line x1="61.20" y1="406.90" x2="64.60" y2="406.90" stroke="#111" stroke-width="1.2"/>
<text x="58.60" y="409.90" font-size="8.4" text-anchor="end" fill="#111" stroke="#111" stroke-width="0.22" font-weight="normal" >0</text>
<line x1="61.20" y1="380.15" x2="64.60" y2="380.15" stroke="#111" stroke-width="1.2"/>
<text x="58.60" y="383.15" font-size="8.4" text-anchor="end" fill="#111" stroke="#111" stroke-width="0.22" font-weight="normal" >50</text>
<line x1="61.20" y1="353.40" x2="64.60" y2="353.40" stroke="#111" stroke-width="1.2"/>
<text x="58.60" y="356.40" font-size="8.4" text-anchor="end" fill="#111" stroke="#111" stroke-width="0.22" font-weight="normal" >100</text>
<line x1="61.20" y1="326.65" x2="64.60" y2="326.65" stroke="#111" stroke-width="1.2"/>
<text x="58.60" y="329.65" font-size="8.4" text-anchor="end" fill="#111" stroke="#111" stroke-width="0.22" font-weight="normal" >150</text>
<line x1="61.20" y1="299.90" x2="64.60" y2="299.90" stroke="#111" stroke-width="1.2"/>
<text x="58.60" y="302.90" font-size="8.4" text-anchor="end" fill="#111" stroke="#111" stroke-width="0.22" font-weight="normal" >200</text>
<line x1="63.90" y1="406.90" x2="168.00" y2="406.90" stroke="#111" stroke-width="1.8"/>
<line x1="98.70" y1="406.90" x2="98.70" y2="410.10" stroke="#111" stroke-width="1.1"/>
<line x1="133.00" y1="406.90" x2="133.00" y2="410.10" stroke="#111" stroke-width="1.1"/>
<line x1="168.00" y1="406.90" x2="168.00" y2="410.10" stroke="#111" stroke-width="1.1"/>
<rect x="74.60" y="345.38" width="14.00" height="61.52" fill="#b3133b"/>
<line x1="81.60" y1="345.38" x2="81.60" y2="340.80" stroke="#222" stroke-width="1.3"/>
<line x1="79.20" y1="340.80" x2="84.00" y2="340.80" stroke="#222" stroke-width="1.3"/>
<rect x="109.10" y="348.05" width="13.70" height="58.85" fill="#2d4c8a"/>
<line x1="115.95" y1="348.05" x2="115.95" y2="339.10" stroke="#222" stroke-width="1.3"/>
<line x1="113.55" y1="339.10" x2="118.35" y2="339.10" stroke="#222" stroke-width="1.3"/>
<rect x="142.80" y="315.95" width="14.00" height="90.95" fill="#6aab3e"/>
<line x1="149.80" y1="315.95" x2="149.80" y2="306.00" stroke="#222" stroke-width="1.3"/>
<line x1="147.40" y1="306.00" x2="152.20" y2="306.00" stroke="#222" stroke-width="1.3"/>
<text x="40.00" y="351.70" font-size="9.3" text-anchor="middle" fill="#111" stroke="#111" stroke-width="0.22" transform="rotate(-90 40.00 351.70)">(%)</text>
<line x1="80.50" y1="295.00" x2="149.70" y2="295.00" stroke="#111" stroke-width="1.3"/>
<text x="115.70" y="294.90" font-size="7.6" text-anchor="middle" fill="#111" stroke="#111" stroke-width="0.22" font-weight="normal" >*</text>
<line x1="114.50" y1="304.50" x2="149.70" y2="304.50" stroke="#111" stroke-width="1.3"/>
<text x="132.40" y="304.40" font-size="7.6" text-anchor="middle" fill="#111" stroke="#111" stroke-width="0.22" font-weight="normal" >*</text>
<text x="81.60" y="420.20" font-size="8.6" text-anchor="middle" fill="#111" stroke="#111" stroke-width="0.22">FH<tspan font-size="5.59" dy="-3.78">W/W</tspan></text>
<text x="115.95" y="420.20" font-size="8.6" text-anchor="middle" fill="#111" stroke="#111" stroke-width="0.22">FH<tspan font-size="5.59" dy="-3.78">W/R</tspan></text>
<text x="149.80" y="420.20" font-size="8.6" text-anchor="middle" fill="#111" stroke="#111" stroke-width="0.22">FH<tspan font-size="5.59" dy="-3.78">R/R</tspan></text>
<text x="291.50" y="285.20" font-size="9.7" text-anchor="middle" fill="#111" stroke="#111" stroke-width="0.22" font-weight="normal" >VWF antigen levels</text>
<line x1="230.00" y1="296.70" x2="230.00" y2="407.50" stroke="#111" stroke-width="1.5"/>
<line x1="226.60" y1="406.70" x2="230.00" y2="406.70" stroke="#111" stroke-width="1.2"/>
<text x="224.00" y="409.70" font-size="8.4" text-anchor="end" fill="#111" stroke="#111" stroke-width="0.22" font-weight="normal" >0</text>
<line x1="226.60" y1="385.10" x2="230.00" y2="385.10" stroke="#111" stroke-width="1.2"/>
<text x="224.00" y="388.10" font-size="8.4" text-anchor="end" fill="#111" stroke="#111" stroke-width="0.22" font-weight="normal" >20</text>
<line x1="226.60" y1="363.50" x2="230.00" y2="363.50" stroke="#111" stroke-width="1.2"/>
<text x="224.00" y="366.50" font-size="8.4" text-anchor="end" fill="#111" stroke="#111" stroke-width="0.22" font-weight="normal" >40</text>
<line x1="226.60" y1="341.90" x2="230.00" y2="341.90" stroke="#111" stroke-width="1.2"/>
<text x="224.00" y="344.90" font-size="8.4" text-anchor="end" fill="#111" stroke="#111" stroke-width="0.22" font-weight="normal" >60</text>
<line x1="226.60" y1="320.30" x2="230.00" y2="320.30" stroke="#111" stroke-width="1.2"/>
<text x="224.00" y="323.30" font-size="8.4" text-anchor="end" fill="#111" stroke="#111" stroke-width="0.22" font-weight="normal" >80</text>
<line x1="226.60" y1="298.70" x2="230.00" y2="298.70" stroke="#111" stroke-width="1.2"/>
<text x="224.00" y="301.70" font-size="8.4" text-anchor="end" fill="#111" stroke="#111" stroke-width="0.22" font-weight="normal" >100</text>
<line x1="229.30" y1="406.70" x2="349.20" y2="406.70" stroke="#111" stroke-width="1.8"/>
<line x1="270.50" y1="406.70" x2="270.50" y2="409.90" stroke="#111" stroke-width="1.1"/>
<line x1="311.00" y1="406.70" x2="311.00" y2="409.90" stroke="#111" stroke-width="1.1"/>
<line x1="349.20" y1="406.70" x2="349.20" y2="409.90" stroke="#111" stroke-width="1.1"/>
<rect x="242.20" y="333.26" width="16.10" height="73.44" fill="#b3133b"/>
<line x1="250.25" y1="333.26" x2="250.25" y2="331.80" stroke="#222" stroke-width="1.3"/>
<line x1="247.85" y1="331.80" x2="252.65" y2="331.80" stroke="#222" stroke-width="1.3"/>
<rect x="282.50" y="332.18" width="16.70" height="74.52" fill="#2d4c8a"/>
<line x1="290.85" y1="332.18" x2="290.85" y2="330.20" stroke="#222" stroke-width="1.3"/>
<line x1="288.45" y1="330.20" x2="293.25" y2="330.20" stroke="#222" stroke-width="1.3"/>
<rect x="323.40" y="311.66" width="17.00" height="95.04" fill="#6aab3e"/>
<line x1="331.90" y1="311.66" x2="331.90" y2="310.60" stroke="#222" stroke-width="1.3"/>
<line x1="329.50" y1="310.60" x2="334.30" y2="310.60" stroke="#222" stroke-width="1.3"/>
<text x="204.60" y="352.50" font-size="9.3" text-anchor="middle" fill="#111" stroke="#111" stroke-width="0.22" transform="rotate(-90 204.60 352.50)">(U/dl)</text>
<line x1="247.20" y1="298.30" x2="331.60" y2="298.30" stroke="#111" stroke-width="1.3"/>
<text x="289.60" y="298.80" font-size="7.6" text-anchor="middle" fill="#111" stroke="#111" stroke-width="0.22" font-weight="normal" >*</text>
<line x1="288.00" y1="307.50" x2="331.60" y2="307.50" stroke="#111" stroke-width="1.3"/>
<text x="309.50" y="308.00" font-size="7.6" text-anchor="middle" fill="#111" stroke="#111" stroke-width="0.22" font-weight="normal" >*</text>
<text x="250.25" y="420.20" font-size="8.6" text-anchor="middle" fill="#111" stroke="#111" stroke-width="0.22">FH<tspan font-size="5.59" dy="-3.78">W/W</tspan></text>
<text x="290.85" y="420.20" font-size="8.6" text-anchor="middle" fill="#111" stroke="#111" stroke-width="0.22">FH<tspan font-size="5.59" dy="-3.78">W/R</tspan></text>
<text x="331.90" y="420.20" font-size="8.6" text-anchor="middle" fill="#111" stroke="#111" stroke-width="0.22">FH<tspan font-size="5.59" dy="-3.78">R/R</tspan></text>
<text x="7.00" y="448.20" font-size="11.6" text-anchor="start" fill="#111" stroke="#111" stroke-width="0.22" font-weight="bold" >C</text>
<text x="157.40" y="461.60" font-size="9.75" text-anchor="middle" fill="#111" stroke="#111" stroke-width="0.22" font-weight="normal" >Murine VWF multimer distribution</text>
<text x="86.60" y="480.00" font-size="8.2" text-anchor="middle" fill="#111" stroke="#111" stroke-width="0.22">FH<tspan font-size="6.00" dy="-3.61">W/W</tspan></text>
<text x="157.30" y="480.00" font-size="8.2" text-anchor="middle" fill="#111" stroke="#111" stroke-width="0.22">FH<tspan font-size="6.00" dy="-3.61">W/R</tspan></text>
<text x="227.70" y="480.00" font-size="8.2" text-anchor="middle" fill="#111" stroke="#111" stroke-width="0.22">FH<tspan font-size="6.00" dy="-3.61">R/R</tspan></text>
<line x1="54.00" y1="484.70" x2="118.30" y2="484.70" stroke="#3a3a3a" stroke-width="1.8"/>
<line x1="124.60" y1="484.70" x2="188.30" y2="484.70" stroke="#3a3a3a" stroke-width="1.8"/>
<line x1="195.30" y1="484.70" x2="259.50" y2="484.70" stroke="#3a3a3a" stroke-width="1.8"/>
<path d="M49.4 495.4 L44.8 495.4 L44.8 510.4 L49.4 510.4" fill="none" stroke="#111" stroke-width="1.4"/>
<path d="M49.4 542.5 L44.8 542.5 L44.8 564.2 L49.4 564.2" fill="none" stroke="#111" stroke-width="1.4"/>
<text x="39.4" y="502.8" font-size="8.0" text-anchor="middle" fill="#111" stroke="#111" stroke-width="0.25" transform="rotate(-90 39.4 502.8)">High</text>
<text x="39.2" y="552.9" font-size="8.0" text-anchor="middle" fill="#111" stroke="#111" stroke-width="0.25" transform="rotate(-90 39.2 552.9)">Low</text>
<rect x="50.3" y="488.0" width="215.4" height="86.4" fill="#dcdcdc"/>
<clipPath id="gelclip"><rect x="50.3" y="488.0" width="215.4" height="86.4"/></clipPath>
<g clip-path="url(#gelclip)"><g filter="url(#blur1)">
<rect x="51.60" y="492.5" width="10.0" height="26.5" fill="url(#smWT1)"/>
<rect x="51.60" y="493" width="10.0" height="1.6" fill="#000" fill-opacity="0.12"/>
<rect x="51.60" y="519" width="10.0" height="25" fill="#000" fill-opacity="0.34"/>
<rect x="51.60" y="544" width="10.0" height="28" fill="#000" fill-opacity="0.07"/>
<rect x="51.60" y="519.20" width="10.0" height="2.0" fill="#000" fill-opacity="0.38"/>
<rect x="51.60" y="522.80" width="10.0" height="2.0" fill="#000" fill-opacity="0.38"/>
<rect x="51.60" y="527.20" width="10.0" height="2.0" fill="#000" fill-opacity="0.36"/>
<rect x="51.60" y="533.00" width="10.0" height="2.0" fill="#000" fill-opacity="0.34"/>
<rect x="51.60" y="540.60" width="10.0" height="2.0" fill="#000" fill-opacity="0.32"/>
<rect x="51.60" y="551.20" width="10.0" height="2.0" fill="#000" fill-opacity="0.16"/>
<rect x="51.60" y="560.20" width="10.0" height="2.0" fill="#000" fill-opacity="0.12"/>
<rect x="65.96" y="492.5" width="10.0" height="26.5" fill="url(#smWT)"/>
<rect x="65.96" y="493" width="10.0" height="1.6" fill="#000" fill-opacity="0.12"/>
<rect x="65.96" y="519" width="10.0" height="25" fill="#000" fill-opacity="0.27"/>
<rect x="65.96" y="544" width="10.0" height="28" fill="#000" fill-opacity="0.07"/>
<rect x="65.96" y="519.20" width="10.0" height="2.0" fill="#000" fill-opacity="0.38"/>
<rect x="65.96" y="522.80" width="10.0" height="2.0" fill="#000" fill-opacity="0.38"/>
<rect x="65.96" y="527.20" width="10.0" height="2.0" fill="#000" fill-opacity="0.36"/>
<rect x="65.96" y="533.00" width="10.0" height="2.0" fill="#000" fill-opacity="0.34"/>
<rect x="65.96" y="540.60" width="10.0" height="2.0" fill="#000" fill-opacity="0.32"/>
<rect x="65.96" y="551.20" width="10.0" height="2.0" fill="#000" fill-opacity="0.16"/>
<rect x="65.96" y="560.20" width="10.0" height="2.0" fill="#000" fill-opacity="0.12"/>
<rect x="80.32" y="492.5" width="10.0" height="26.5" fill="url(#smWT)"/>
<rect x="80.32" y="493" width="10.0" height="1.6" fill="#000" fill-opacity="0.12"/>
<rect x="80.32" y="519" width="10.0" height="25" fill="#000" fill-opacity="0.27"/>
<rect x="80.32" y="544" width="10.0" height="28" fill="#000" fill-opacity="0.07"/>
<rect x="80.32" y="519.20" width="10.0" height="2.0" fill="#000" fill-opacity="0.38"/>
<rect x="80.32" y="522.80" width="10.0" height="2.0" fill="#000" fill-opacity="0.38"/>
<rect x="80.32" y="527.20" width="10.0" height="2.0" fill="#000" fill-opacity="0.36"/>
<rect x="80.32" y="533.00" width="10.0" height="2.0" fill="#000" fill-opacity="0.34"/>
<rect x="80.32" y="540.60" width="10.0" height="2.0" fill="#000" fill-opacity="0.32"/>
<rect x="80.32" y="551.20" width="10.0" height="2.0" fill="#000" fill-opacity="0.16"/>
<rect x="80.32" y="560.20" width="10.0" height="2.0" fill="#000" fill-opacity="0.12"/>
<rect x="94.68" y="492.5" width="10.0" height="26.5" fill="url(#smWT)"/>
<rect x="94.68" y="493" width="10.0" height="1.6" fill="#000" fill-opacity="0.12"/>
<rect x="94.68" y="519" width="10.0" height="25" fill="#000" fill-opacity="0.27"/>
<rect x="94.68" y="544" width="10.0" height="28" fill="#000" fill-opacity="0.07"/>
<rect x="94.68" y="519.20" width="10.0" height="2.0" fill="#000" fill-opacity="0.38"/>
<rect x="94.68" y="522.80" width="10.0" height="2.0" fill="#000" fill-opacity="0.38"/>
<rect x="94.68" y="527.20" width="10.0" height="2.0" fill="#000" fill-opacity="0.36"/>
<rect x="94.68" y="533.00" width="10.0" height="2.0" fill="#000" fill-opacity="0.34"/>
<rect x="94.68" y="540.60" width="10.0" height="2.0" fill="#000" fill-opacity="0.32"/>
<rect x="94.68" y="551.20" width="10.0" height="2.0" fill="#000" fill-opacity="0.16"/>
<rect x="94.68" y="560.20" width="10.0" height="2.0" fill="#000" fill-opacity="0.12"/>
<rect x="109.04" y="492.5" width="10.0" height="26.5" fill="url(#smWT)"/>
<rect x="109.04" y="493" width="10.0" height="1.6" fill="#000" fill-opacity="0.12"/>
<rect x="109.04" y="519" width="10.0" height="25" fill="#000" fill-opacity="0.27"/>
<rect x="109.04" y="544" width="10.0" height="28" fill="#000" fill-opacity="0.07"/>
<rect x="109.04" y="519.20" width="10.0" height="2.0" fill="#000" fill-opacity="0.38"/>
<rect x="109.04" y="522.80" width="10.0" height="2.0" fill="#000" fill-opacity="0.38"/>
<rect x="109.04" y="527.20" width="10.0" height="2.0" fill="#000" fill-opacity="0.36"/>
<rect x="109.04" y="533.00" width="10.0" height="2.0" fill="#000" fill-opacity="0.34"/>
<rect x="109.04" y="540.60" width="10.0" height="2.0" fill="#000" fill-opacity="0.32"/>
<rect x="109.04" y="551.20" width="10.0" height="2.0" fill="#000" fill-opacity="0.16"/>
<rect x="109.04" y="560.20" width="10.0" height="2.0" fill="#000" fill-opacity="0.12"/>
<rect x="123.40" y="492.5" width="10.0" height="26.5" fill="url(#smWT)"/>
<rect x="123.40" y="493" width="10.0" height="1.6" fill="#000" fill-opacity="0.12"/>
<rect x="123.40" y="519" width="10.0" height="25" fill="#000" fill-opacity="0.27"/>
<rect x="123.40" y="544" width="10.0" height="28" fill="#000" fill-opacity="0.07"/>
<rect x="123.40" y="519.20" width="10.0" height="2.0" fill="#000" fill-opacity="0.38"/>
<rect x="123.40" y="522.80" width="10.0" height="2.0" fill="#000" fill-opacity="0.38"/>
<rect x="123.40" y="527.20" width="10.0" height="2.0" fill="#000" fill-opacity="0.36"/>
<rect x="123.40" y="533.00" width="10.0" height="2.0" fill="#000" fill-opacity="0.34"/>
<rect x="123.40" y="540.60" width="10.0" height="2.0" fill="#000" fill-opacity="0.32"/>
<rect x="123.40" y="551.20" width="10.0" height="2.0" fill="#000" fill-opacity="0.16"/>
<rect x="123.40" y="560.20" width="10.0" height="2.0" fill="#000" fill-opacity="0.12"/>
<rect x="137.76" y="492.5" width="10.0" height="26.5" fill="url(#smWT)"/>
<rect x="137.76" y="493" width="10.0" height="1.6" fill="#000" fill-opacity="0.12"/>
<rect x="137.76" y="519" width="10.0" height="25" fill="#000" fill-opacity="0.27"/>
<rect x="137.76" y="544" width="10.0" height="28" fill="#000" fill-opacity="0.07"/>
<rect x="137.76" y="519.20" width="10.0" height="2.0" fill="#000" fill-opacity="0.38"/>
<rect x="137.76" y="522.80" width="10.0" height="2.0" fill="#000" fill-opacity="0.38"/>
<rect x="137.76" y="527.20" width="10.0" height="2.0" fill="#000" fill-opacity="0.36"/>
<rect x="137.76" y="533.00" width="10.0" height="2.0" fill="#000" fill-opacity="0.34"/>
<rect x="137.76" y="540.60" width="10.0" height="2.0" fill="#000" fill-opacity="0.32"/>
<rect x="137.76" y="551.20" width="10.0" height="2.0" fill="#000" fill-opacity="0.16"/>
<rect x="137.76" y="560.20" width="10.0" height="2.0" fill="#000" fill-opacity="0.12"/>
<rect x="152.12" y="492.5" width="10.0" height="26.5" fill="url(#smWT)"/>
<rect x="152.12" y="493" width="10.0" height="1.6" fill="#000" fill-opacity="0.12"/>
<rect x="152.12" y="519" width="10.0" height="25" fill="#000" fill-opacity="0.27"/>
<rect x="152.12" y="544" width="10.0" height="28" fill="#000" fill-opacity="0.07"/>
<rect x="152.12" y="519.20" width="10.0" height="2.0" fill="#000" fill-opacity="0.38"/>
<rect x="152.12" y="522.80" width="10.0" height="2.0" fill="#000" fill-opacity="0.38"/>
<rect x="152.12" y="527.20" width="10.0" height="2.0" fill="#000" fill-opacity="0.36"/>
<rect x="152.12" y="533.00" width="10.0" height="2.0" fill="#000" fill-opacity="0.34"/>
<rect x="152.12" y="540.60" width="10.0" height="2.0" fill="#000" fill-opacity="0.32"/>
<rect x="152.12" y="551.20" width="10.0" height="2.0" fill="#000" fill-opacity="0.16"/>
<rect x="152.12" y="560.20" width="10.0" height="2.0" fill="#000" fill-opacity="0.12"/>
<rect x="166.48" y="492.5" width="10.0" height="26.5" fill="url(#smWT)"/>
<rect x="166.48" y="493" width="10.0" height="1.6" fill="#000" fill-opacity="0.12"/>
<rect x="166.48" y="519" width="10.0" height="25" fill="#000" fill-opacity="0.27"/>
<rect x="166.48" y="544" width="10.0" height="28" fill="#000" fill-opacity="0.07"/>
<rect x="166.48" y="519.20" width="10.0" height="2.0" fill="#000" fill-opacity="0.38"/>
<rect x="166.48" y="522.80" width="10.0" height="2.0" fill="#000" fill-opacity="0.38"/>
<rect x="166.48" y="527.20" width="10.0" height="2.0" fill="#000" fill-opacity="0.36"/>
<rect x="166.48" y="533.00" width="10.0" height="2.0" fill="#000" fill-opacity="0.34"/>
<rect x="166.48" y="540.60" width="10.0" height="2.0" fill="#000" fill-opacity="0.32"/>
<rect x="166.48" y="551.20" width="10.0" height="2.0" fill="#000" fill-opacity="0.16"/>
<rect x="166.48" y="560.20" width="10.0" height="2.0" fill="#000" fill-opacity="0.12"/>
<rect x="180.84" y="492.5" width="10.0" height="26.5" fill="url(#smWT)"/>
<rect x="180.84" y="493" width="10.0" height="1.6" fill="#000" fill-opacity="0.12"/>
<rect x="180.84" y="519" width="10.0" height="25" fill="#000" fill-opacity="0.27"/>
<rect x="180.84" y="544" width="10.0" height="28" fill="#000" fill-opacity="0.07"/>
<rect x="180.84" y="519.20" width="10.0" height="2.0" fill="#000" fill-opacity="0.38"/>
<rect x="180.84" y="522.80" width="10.0" height="2.0" fill="#000" fill-opacity="0.38"/>
<rect x="180.84" y="527.20" width="10.0" height="2.0" fill="#000" fill-opacity="0.36"/>
<rect x="180.84" y="533.00" width="10.0" height="2.0" fill="#000" fill-opacity="0.34"/>
<rect x="180.84" y="540.60" width="10.0" height="2.0" fill="#000" fill-opacity="0.32"/>
<rect x="180.84" y="551.20" width="10.0" height="2.0" fill="#000" fill-opacity="0.16"/>
<rect x="180.84" y="560.20" width="10.0" height="2.0" fill="#000" fill-opacity="0.12"/>
<rect x="195.10" y="492" width="10.2" height="20" fill="url(#smRR)"/>
<rect x="195.10" y="512" width="10.2" height="44" fill="#000" fill-opacity="0.76"/>
<rect x="195.10" y="556" width="10.2" height="16" fill="#000" fill-opacity="0.12"/>
<rect x="195.10" y="518.90" width="10.2" height="2.6" fill="#000" fill-opacity="0.88"/>
<rect x="195.10" y="522.50" width="10.2" height="2.6" fill="#000" fill-opacity="0.88"/>
<rect x="195.10" y="526.90" width="10.2" height="2.6" fill="#000" fill-opacity="0.88"/>
<rect x="195.10" y="532.70" width="10.2" height="2.6" fill="#000" fill-opacity="0.88"/>
<rect x="195.10" y="540.30" width="10.2" height="2.6" fill="#000" fill-opacity="0.88"/>
<rect x="195.10" y="550.90" width="10.2" height="2.6" fill="#000" fill-opacity="0.88"/>
<rect x="209.46" y="492" width="10.2" height="21" fill="url(#smRR)"/>
<rect x="209.46" y="513" width="10.2" height="43" fill="#000" fill-opacity="0.76"/>
<rect x="209.46" y="556" width="10.2" height="16" fill="#000" fill-opacity="0.12"/>
<rect x="209.46" y="518.90" width="10.2" height="2.6" fill="#000" fill-opacity="0.88"/>
<rect x="209.46" y="522.50" width="10.2" height="2.6" fill="#000" fill-opacity="0.88"/>
<rect x="209.46" y="526.90" width="10.2" height="2.6" fill="#000" fill-opacity="0.88"/>
<rect x="209.46" y="532.70" width="10.2" height="2.6" fill="#000" fill-opacity="0.88"/>
<rect x="209.46" y="540.30" width="10.2" height="2.6" fill="#000" fill-opacity="0.88"/>
<rect x="209.46" y="550.90" width="10.2" height="2.6" fill="#000" fill-opacity="0.88"/>
<rect x="223.82" y="492" width="10.2" height="18" fill="url(#smRR)"/>
<rect x="223.82" y="510" width="10.2" height="46" fill="#000" fill-opacity="0.76"/>
<rect x="223.82" y="556" width="10.2" height="16" fill="#000" fill-opacity="0.12"/>
<rect x="223.82" y="518.90" width="10.2" height="2.6" fill="#000" fill-opacity="0.88"/>
<rect x="223.82" y="522.50" width="10.2" height="2.6" fill="#000" fill-opacity="0.88"/>
<rect x="223.82" y="526.90" width="10.2" height="2.6" fill="#000" fill-opacity="0.88"/>
<rect x="223.82" y="532.70" width="10.2" height="2.6" fill="#000" fill-opacity="0.88"/>
<rect x="223.82" y="540.30" width="10.2" height="2.6" fill="#000" fill-opacity="0.88"/>
<rect x="223.82" y="550.90" width="10.2" height="2.6" fill="#000" fill-opacity="0.88"/>
<rect x="238.18" y="492" width="10.2" height="24" fill="url(#smRR)"/>
<rect x="238.18" y="516" width="10.2" height="40" fill="#000" fill-opacity="0.76"/>
<rect x="238.18" y="556" width="10.2" height="16" fill="#000" fill-opacity="0.12"/>
<rect x="238.18" y="518.90" width="10.2" height="2.6" fill="#000" fill-opacity="0.88"/>
<rect x="238.18" y="522.50" width="10.2" height="2.6" fill="#000" fill-opacity="0.88"/>
<rect x="238.18" y="526.90" width="10.2" height="2.6" fill="#000" fill-opacity="0.88"/>
<rect x="238.18" y="532.70" width="10.2" height="2.6" fill="#000" fill-opacity="0.88"/>
<rect x="238.18" y="540.30" width="10.2" height="2.6" fill="#000" fill-opacity="0.88"/>
<rect x="238.18" y="550.90" width="10.2" height="2.6" fill="#000" fill-opacity="0.88"/>
<rect x="252.54" y="492" width="10.2" height="10" fill="url(#smRR)"/>
<rect x="252.54" y="502" width="10.2" height="54" fill="#000" fill-opacity="0.76"/>
<rect x="252.54" y="556" width="10.2" height="16" fill="#000" fill-opacity="0.12"/>
<rect x="252.54" y="518.90" width="10.2" height="2.6" fill="#000" fill-opacity="0.88"/>
<rect x="252.54" y="522.50" width="10.2" height="2.6" fill="#000" fill-opacity="0.88"/>
<rect x="252.54" y="526.90" width="10.2" height="2.6" fill="#000" fill-opacity="0.88"/>
<rect x="252.54" y="532.70" width="10.2" height="2.6" fill="#000" fill-opacity="0.88"/>
<rect x="252.54" y="540.30" width="10.2" height="2.6" fill="#000" fill-opacity="0.88"/>
<rect x="252.54" y="550.90" width="10.2" height="2.6" fill="#000" fill-opacity="0.88"/>
</g></g>
<text x="299.20" y="447.60" font-size="11.6" text-anchor="start" fill="#111" stroke="#111" stroke-width="0.22" font-weight="bold" >D</text>
<text x="371.20" y="463.20" font-size="9.7" text-anchor="middle" fill="#111" stroke="#111" stroke-width="0.22" font-weight="normal" >The ratio of High/Low MW</text>
<text x="369.80" y="474.70" font-size="9.7" text-anchor="middle" fill="#111" stroke="#111" stroke-width="0.22" font-weight="normal" >VWF multimers</text>
<line x1="323.80" y1="487.16" x2="323.80" y2="575.00" stroke="#111" stroke-width="1.5"/>
<line x1="320.40" y1="574.20" x2="323.80" y2="574.20" stroke="#111" stroke-width="1.2"/>
<text x="317.80" y="577.20" font-size="8.6" text-anchor="end" fill="#111" stroke="#111" stroke-width="0.22" font-weight="normal" >0</text>
<line x1="320.40" y1="563.57" x2="323.80" y2="563.57" stroke="#111" stroke-width="1.2"/>
<text x="317.80" y="566.57" font-size="8.6" text-anchor="end" fill="#111" stroke="#111" stroke-width="0.22" font-weight="normal" >1</text>
<line x1="320.40" y1="552.94" x2="323.80" y2="552.94" stroke="#111" stroke-width="1.2"/>
<text x="317.80" y="555.94" font-size="8.6" text-anchor="end" fill="#111" stroke="#111" stroke-width="0.22" font-weight="normal" >2</text>
<line x1="320.40" y1="542.31" x2="323.80" y2="542.31" stroke="#111" stroke-width="1.2"/>
<text x="317.80" y="545.31" font-size="8.6" text-anchor="end" fill="#111" stroke="#111" stroke-width="0.22" font-weight="normal" >3</text>
<line x1="320.40" y1="531.68" x2="323.80" y2="531.68" stroke="#111" stroke-width="1.2"/>
<text x="317.80" y="534.68" font-size="8.6" text-anchor="end" fill="#111" stroke="#111" stroke-width="0.22" font-weight="normal" >4</text>
<line x1="320.40" y1="521.05" x2="323.80" y2="521.05" stroke="#111" stroke-width="1.2"/>
<text x="317.80" y="524.05" font-size="8.6" text-anchor="end" fill="#111" stroke="#111" stroke-width="0.22" font-weight="normal" >5</text>
<line x1="320.40" y1="510.42" x2="323.80" y2="510.42" stroke="#111" stroke-width="1.2"/>
<text x="317.80" y="513.42" font-size="8.6" text-anchor="end" fill="#111" stroke="#111" stroke-width="0.22" font-weight="normal" >6</text>
<line x1="320.40" y1="499.79" x2="323.80" y2="499.79" stroke="#111" stroke-width="1.2"/>
<text x="317.80" y="502.79" font-size="8.6" text-anchor="end" fill="#111" stroke="#111" stroke-width="0.22" font-weight="normal" >7</text>
<line x1="320.40" y1="489.16" x2="323.80" y2="489.16" stroke="#111" stroke-width="1.2"/>
<text x="317.80" y="492.16" font-size="8.6" text-anchor="end" fill="#111" stroke="#111" stroke-width="0.22" font-weight="normal" >8</text>
<line x1="323.10" y1="574.20" x2="414.20" y2="574.20" stroke="#111" stroke-width="1.8"/>
<line x1="354.20" y1="574.20" x2="354.20" y2="577.40" stroke="#111" stroke-width="1.1"/>
<line x1="384.40" y1="574.20" x2="384.40" y2="577.40" stroke="#111" stroke-width="1.1"/>
<line x1="414.20" y1="574.20" x2="414.20" y2="577.40" stroke="#111" stroke-width="1.1"/>
<rect x="333.50" y="518.92" width="11.50" height="55.28" fill="#b3133b"/>
<line x1="339.25" y1="518.92" x2="339.25" y2="506.50" stroke="#222" stroke-width="1.3"/>
<line x1="336.85" y1="506.50" x2="341.65" y2="506.50" stroke="#222" stroke-width="1.3"/>
<rect x="363.50" y="504.04" width="11.50" height="70.16" fill="#2d4c8a"/>
<line x1="369.25" y1="504.04" x2="369.25" y2="498.50" stroke="#222" stroke-width="1.3"/>
<line x1="366.85" y1="498.50" x2="371.65" y2="498.50" stroke="#222" stroke-width="1.3"/>
<rect x="393.50" y="557.72" width="11.50" height="16.48" fill="#6aab3e"/>
<line x1="399.25" y1="557.72" x2="399.25" y2="554.30" stroke="#222" stroke-width="1.3"/>
<line x1="396.85" y1="554.30" x2="401.65" y2="554.30" stroke="#222" stroke-width="1.3"/>
<text x="307.40" y="530.20" font-size="9.0" text-anchor="middle" fill="#111" stroke="#111" stroke-width="0.22" transform="rotate(-90 307.40 530.20)">Ratio high/low</text>
<line x1="331.20" y1="484.20" x2="400.40" y2="484.20" stroke="#111" stroke-width="1.3"/>
<text x="365.80" y="485.00" font-size="8.4" text-anchor="middle" fill="#111" stroke="#111" stroke-width="0.22" font-weight="normal" >**</text>
<line x1="371.50" y1="494.20" x2="403.70" y2="494.20" stroke="#111" stroke-width="1.3"/>
<text x="387.20" y="495.00" font-size="8.4" text-anchor="middle" fill="#111" stroke="#111" stroke-width="0.22" font-weight="normal" >**</text>
<text x="339.25" y="587.20" font-size="8.8" text-anchor="middle" fill="#111" stroke="#111" stroke-width="0.22">FH<tspan font-size="5.72" dy="-3.87">W/W</tspan></text>
<text x="369.25" y="587.20" font-size="8.8" text-anchor="middle" fill="#111" stroke="#111" stroke-width="0.22">FH<tspan font-size="5.72" dy="-3.87">W/R</tspan></text>
<text x="399.25" y="587.20" font-size="8.8" text-anchor="middle" fill="#111" stroke="#111" stroke-width="0.22">FH<tspan font-size="5.72" dy="-3.87">R/R</tspan></text>
<rect x="0" y="0" width="520" height="1.2" fill="#000"/><rect x="0" y="0" width="1.4" height="590" fill="#000"/><rect x="518" y="0" width="2" height="590" fill="#000"/><rect x="0" y="587.7" width="520" height="2.3" fill="#000"/>
</svg>
</div>
</body></html>
